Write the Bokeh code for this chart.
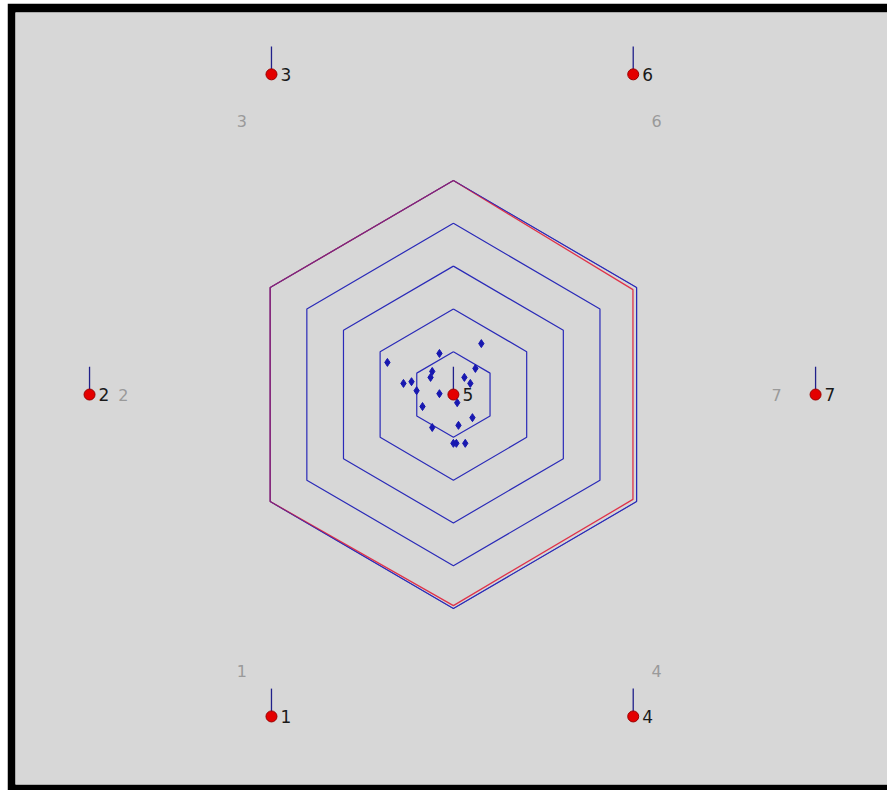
import numpy as np
from bokeh.plotting import figure
from bokeh.models import Range1d, ColumnDataSource
from bokeh.core.properties import value
from bokeh.embed import file_html
from bokeh.resources import INLINE

# Node positions (flat-top ring) and labels
node_labels = ["1", "2", "3", "4", "5", "6", "7"]
node_x = [-4.3, -8.6, -4.3, 4.25, 0.0, 4.25, 8.56]
node_y = [-7.52, 0.0, 7.48, -7.52, 0.0, 7.48, 0.0]

# Grey axis-name labels around the web
axis_labels = ["1", "2", "3", "4", "6", "7"]
axis_x = [-5.0, -7.8, -5.0, 4.8, 4.8, 7.64]
axis_y = [-6.45, 0.0, 6.38, -6.45, 6.38, 0.0]

# Concentric web rings (pointy-top hexagons)
ring_radii = [1, 2, 3, 4, 5]

# Outline of the maximum values along the six spokes (90°, 30°, -30°, -90°, -150°, 150°)
max_radii = [5.0, 4.9, 4.9, 4.93, 5.0, 5.0]

# Scatter of observations near the centre
obs_x = [0.66, -1.56, -0.33, -0.50, -0.54, -1.18, -0.99, -0.87, -0.33, 0.26,
         0.52, 0.40, 0.09, -0.73, 0.45, 0.12, -0.50, 0.0, 0.07, 0.28]
obs_y = [1.19, 0.75, 0.96, 0.54, 0.40, 0.26, 0.30, 0.09, 0.02, 0.40,
         0.61, 0.26, -0.19, -0.28, -0.54, -0.72, -0.77, -1.14, -1.14, -1.14]

STEM = 0.65
angles = np.radians([90, 30, -30, -90, -150, 150])

p = figure(width=880, height=787, output_backend="svg", toolbar_location=None,
           x_range=Range1d(-10.35, 10.26), y_range=Range1d(-9.11, 8.925),
           min_border_left=8, min_border_top=9, min_border_bottom=6, min_border_right=0,
           border_fill_color="black", background_fill_color="#d7d7d7",
           outline_line_color=None, margin=(3, 0, 0, 7))
p.axis.visible = False
p.grid.visible = False

blue = "#2a2ab8"
for r in ring_radii:
    xs = list(r * np.cos(angles)) + [r * np.cos(angles[0])]
    ys = list(r * np.sin(angles)) + [r * np.sin(angles[0])]
    p.line(xs, ys, line_color=blue, line_width=1.2)

mx = [r * np.cos(a) for r, a in zip(max_radii, angles)]
my = [r * np.sin(a) for r, a in zip(max_radii, angles)]
p.line(mx + mx[:1], my + my[:1], line_color="#e0203a", line_width=1.3, line_alpha=0.9)
# blue outer ring redrawn on top so overlaps read purple
p.line(list(5 * np.cos(angles)) + [5 * np.cos(angles[0])],
       list(5 * np.sin(angles)) + [5 * np.sin(angles[0])],
       line_color=blue, line_width=1.0, line_alpha=0.55)

p.scatter(obs_x, obs_y, marker="diamond", size=8, fill_color="#1818b0", line_color="#1818b0")

src = ColumnDataSource(dict(x=node_x, y=node_y, y1=[v + STEM for v in node_y], lab=node_labels))
p.segment(x0="x", y0="y", x1="x", y1="y1", source=src, line_color="#20208a", line_width=1.3)
p.scatter(x="x", y="y", source=src, size=11, fill_color="#e40000", line_color="#9a0000", line_width=1)
p.text(x="x", y="y", text="lab", source=src, x_offset=9, text_baseline="middle",
       text_font=value("DejaVu Sans"), text_font_size="17px", text_color="#1a1a1a")

p.text(axis_x, axis_y, text=axis_labels, text_align="center", text_baseline="middle",
       text_font=value("DejaVu Sans"), text_font_size="16px", text_color="#9a9a9a")

open("out.html", "w").write(file_html(p, INLINE))
